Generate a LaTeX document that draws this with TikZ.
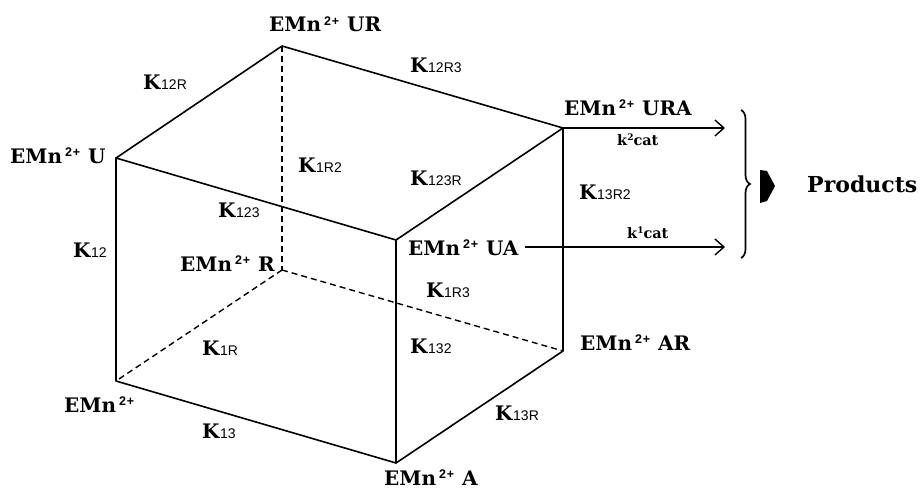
\documentclass[tikz,border=0pt]{standalone}
\usepackage{fontspec}
\setmainfont{DejaVu Serif}
\setsansfont{Liberation Sans}
\usetikzlibrary{arrows.meta,decorations.pathreplacing}
\newcommand{\kk}[1]{\textbf{K}{\sffamily\mdseries\fontsize{14}{15}\selectfont #1}}
\newcommand{\emn}{\textbf{EMn}\kern3pt\raisebox{6.5pt}{\sffamily\bfseries\fontsize{12.5}{13}\selectfont 2\kern0.8pt+}\kern1pt}
\begin{document}
\begin{tikzpicture}[x=1pt,y=-1pt,
  lbl/.style={inner sep=0pt, anchor=base west, font=\fontsize{20}{24}\selectfont\bfseries},
  small/.style={inner sep=0pt, anchor=base west, font=\fontsize{14.5}{16}\selectfont\bfseries},
  edge/.style={line width=1.6pt, line join=round, line cap=round},
  hid/.style={line width=1.4pt, dash pattern=on 6pt off 4pt},
  rx/.style={line width=1.4pt, -{Straight Barb[length=9pt,width=16pt,line width=1.4pt]}}]
\useasboundingbox (0,0) rectangle (920,495);
% cube vertices
\coordinate (U) at (116,158);
\coordinate (UR) at (282,46);
\coordinate (URA) at (563,128);
\coordinate (UA) at (396,240);
\coordinate (E) at (116,381);
\coordinate (A) at (396,463);
\coordinate (AR) at (563,351);
\coordinate (R) at (282,270);
\coordinate (k2end) at (725,128);
\coordinate (k1end) at (725,247);
% hidden edges
\draw[hid] (UR) -- (R);
\draw[hid] (R) -- (E);
\draw[hid] (R) -- (AR);
% visible edges
\draw[edge] (U) -- (UR) -- (URA) -- (UA) -- cycle;
\draw[edge] (U) -- (E) -- (A) -- (UA);
\draw[edge] (A) -- (AR) -- (URA);
% species labels
\node[lbl] (urL) at (269,32) {\emn\ UR};
\node[lbl] (uL) at (10,163) {\emn\ U};
\node[lbl] (uraL) at (564,115) {\emn\ URA};
\node[lbl] (uaL) at (408,255) {\emn\ UA};
\node[lbl] (rL) at (180,271) {\emn\ R};
\node[lbl] (arL) at (580,350) {\emn\ AR};
\node[lbl] (aL) at (384,485) {\emn\ A};
\node[lbl] (eL) at (64,412) {\emn};
% constants
\node[lbl] (k12r) at (143,89) {\kk{12R}};
\node[lbl] (k1r2) at (298,172) {\kk{1R2}};
\node[lbl] (k12r3) at (410,73) {\kk{12R3}};
\node[lbl] (k123r) at (410,185) {\kk{123R}};
\node[lbl] (k13r2) at (579,199) {\kk{13R2}};
\node[lbl] (k123) at (218,217) {\kk{123}};
\node[lbl] (k12) at (73,257) {\kk{12}};
\node[lbl] (k1r) at (202,355) {\kk{1R}};
\node[lbl] (k1r3) at (426,297) {\kk{1R3}};
\node[lbl] (k132) at (410,353) {\kk{132}};
\node[lbl] (k13r) at (495,420) {\kk{13R}};
\node[lbl] (k13) at (202,438) {\kk{13}};
% catalytic steps
\draw[rx] (URA) -- (k2end);
\draw[rx] ([xshift=6pt]uaL.east |- k1end) -- (k1end);
\node[small] (kcat2) at (617,145) {k\raisebox{4.5pt}{\fontsize{9}{9}\selectfont 2}cat};
\node[small] (kcat1) at (627,238) {k\raisebox{4.5pt}{\fontsize{9}{9}\selectfont 1}cat};
% brace and product
\draw[line width=1.7pt, decorate, decoration={brace, amplitude=9pt}] (741,110) -- (741,258);
\fill (760,170) -- (767,171) -- (775,186) -- (767,201) -- (760,203) -- cycle;
\node[lbl, font=\fontsize{22}{26}\selectfont\bfseries] (prod) at (807,192) {Products};
\end{tikzpicture}
\end{document}
